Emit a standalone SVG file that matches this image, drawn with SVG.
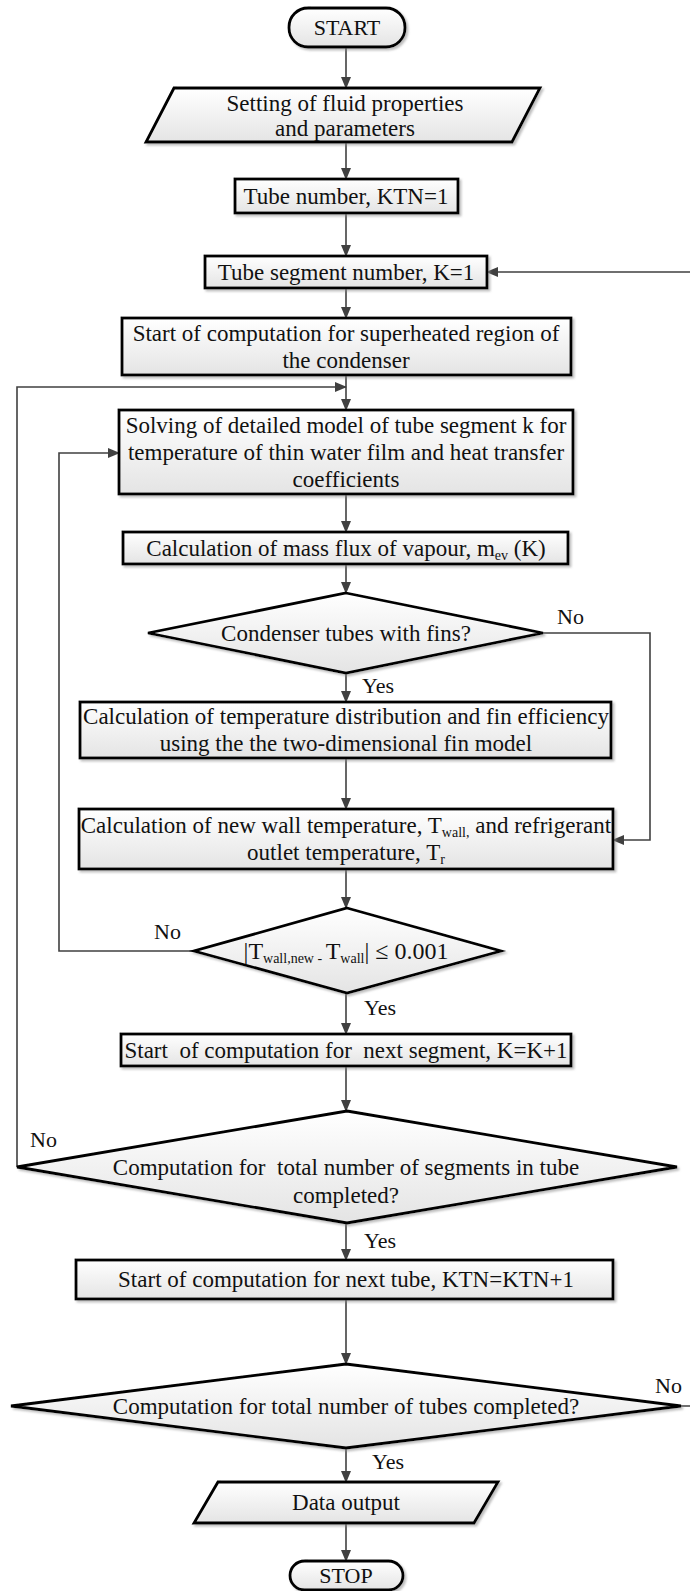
<svg xmlns="http://www.w3.org/2000/svg" width="690" height="1591" viewBox="0 0 690 1591">
<defs>
<linearGradient id="g" x1="0" y1="0" x2="0" y2="1">
<stop offset="0" stop-color="#ffffff"/>
<stop offset="1" stop-color="#e4e4e4"/>
</linearGradient>
<filter id="sh" x="-5%" y="-20%" width="110%" height="150%">
<feDropShadow dx="2" dy="2" stdDeviation="1.2" flood-color="#888" flood-opacity="0.55"/>
</filter>
<marker id="ah" markerUnits="userSpaceOnUse" markerWidth="12" markerHeight="12" viewBox="0 0 12 12" refX="11" refY="6" orient="auto">
<path d="M0,1 L12,6 L0,11 Z" fill="#404040"/>
</marker>
</defs>
<style>
.n{fill:url(#g);stroke:#000;stroke-width:2.8;filter:url(#sh)}
.t{font-family:"Liberation Serif","Times New Roman",serif;font-size:23px;fill:#111;text-anchor:middle}
.l{font-family:"Liberation Serif","Times New Roman",serif;font-size:22px;fill:#111}
.s{font-size:14px}
.c{fill:none;stroke:#404040;stroke-width:1.6}
.a{marker-end:url(#ah)}
</style>
<rect width="690" height="1591" fill="#fff"/>

<g id="connectors">
<path class="c a" d="M346,48 V88"/>
<path class="c a" d="M346,142 V179"/>
<path class="c a" d="M346,213 V256"/>
<path class="c a" d="M346,288 V318"/>
<path class="c a" d="M346,375 V410"/>
<path class="c a" d="M17,1167 V387 H346"/>
<path class="c a" d="M194,951 H59 V453 H119"/>
<path class="c a" d="M346,494 V532"/>
<path class="c a" d="M346,564 V593"/>
<path class="c a" d="M346,673 V702"/>
<path class="c a" d="M543,633 H650 V840 H613"/>
<path class="c a" d="M346,758 V809"/>
<path class="c a" d="M346,869 V908"/>
<path class="c a" d="M346,993 V1034"/>
<path class="c a" d="M346,1066 V1111"/>
<path class="c a" d="M346,1223 V1260"/>
<path class="c a" d="M346,1299 V1364"/>
<path class="c a" d="M681,1406 H696 V272 H487"/>
<path class="c a" d="M346,1448 V1482"/>
<path class="c a" d="M346,1523 V1561"/>
<text class="l" x="557" y="624">No</text>
<text class="l" x="362" y="693">Yes</text>
<text class="l" x="154" y="939">No</text>
<text class="l" x="364" y="1015">Yes</text>
<text class="l" x="30" y="1147">No</text>
<text class="l" x="364" y="1248">Yes</text>
<text class="l" x="655" y="1393">No</text>
<text class="l" x="372" y="1469">Yes</text>
</g>

<g id="start">
<rect class="n" x="289" y="8" width="116" height="39" rx="19" ry="19"/>
<text class="t" x="347" y="35" style="font-size:22px">START</text>
</g>

<g id="input">
<polygon class="n" points="174,88 540,88 512,142 146,142"/>
<text class="t" x="345" y="111">Setting of fluid properties</text>
<text class="t" x="345" y="136">and parameters</text>
</g>

<g id="tube-number">
<rect class="n" x="235" y="179" width="223" height="34"/>
<text class="t" x="346" y="204">Tube number, KTN=1</text>
</g>

<g id="segment-number">
<rect class="n" x="205" y="256" width="282" height="32"/>
<text class="t" x="346" y="280">Tube segment number, K=1</text>
</g>

<g id="superheated">
<rect class="n" x="122" y="318" width="449" height="57"/>
<text class="t" x="346" y="341">Start of computation for superheated region of</text>
<text class="t" x="346" y="368">the condenser</text>
</g>

<g id="solving">
<rect class="n" x="119" y="410" width="454" height="84"/>
<text class="t" x="346" y="433">Solving of detailed model of tube segment k for</text>
<text class="t" x="346" y="460">temperature of thin water film and heat transfer</text>
<text class="t" x="346" y="487">coefficients</text>
</g>

<g id="mass-flux">
<rect class="n" x="123" y="532" width="445" height="32"/>
<text class="t" x="346" y="556">Calculation of mass flux of vapour, m<tspan class="s" dy="4">ev</tspan><tspan dy="-4"> (K)</tspan></text>
</g>

<g id="fins-decision">
<polygon class="n" points="346,593 543,633 346,673 148,633"/>
<text class="t" x="346" y="641">Condenser tubes with fins?</text>
</g>

<g id="fin-model">
<rect class="n" x="80" y="702" width="531" height="56"/>
<text class="t" x="346" y="724">Calculation of temperature distribution and fin efficiency</text>
<text class="t" x="346" y="751">using the the two-dimensional fin model</text>
</g>

<g id="wall-temp">
<rect class="n" x="79" y="809" width="534" height="60"/>
<text class="t" x="346" y="833">Calculation of new wall temperature, T<tspan class="s" dy="4">wall,</tspan><tspan dy="-4"> and refrigerant</tspan></text>
<text class="t" x="346" y="860">outlet temperature, T<tspan class="s" dy="4">r</tspan></text>
</g>

<g id="convergence">
<polygon class="n" points="347,908 501,951 347,993 194,951"/>
<text class="t" x="346" y="959" style="font-size:24px">|T<tspan class="s" dy="4">wall,new - </tspan><tspan dy="-4">T</tspan><tspan class="s" dy="4">wall</tspan><tspan dy="-4">| ≤ 0.001</tspan></text>
</g>

<g id="next-segment">
<rect class="n" x="121" y="1034" width="450" height="32"/>
<text class="t" x="346" y="1058" xml:space="preserve">Start  of computation for  next segment, K=K+1</text>
</g>

<g id="segments-decision">
<polygon class="n" points="347,1111 677,1167 347,1223 17,1167"/>
<text class="t" x="346" y="1175" xml:space="preserve">Computation for  total number of segments in tube</text>
<text class="t" x="346" y="1203">completed?</text>
</g>

<g id="next-tube">
<rect class="n" x="76" y="1260" width="537" height="39"/>
<text class="t" x="346" y="1287">Start of computation for next tube, KTN=KTN+1</text>
</g>

<g id="tubes-decision">
<polygon class="n" points="346,1364 681,1406 346,1448 11,1406"/>
<text class="t" x="346" y="1414">Computation for total number of tubes completed?</text>
</g>

<g id="output">
<polygon class="n" points="218,1482 498,1482 474,1523 194,1523"/>
<text class="t" x="346" y="1510">Data output</text>
</g>

<g id="stop">
<rect class="n" x="290" y="1561" width="113" height="29" rx="14.5" ry="14.5"/>
<text class="t" x="346" y="1583" style="font-size:22px">STOP</text>
</g>
</svg>
